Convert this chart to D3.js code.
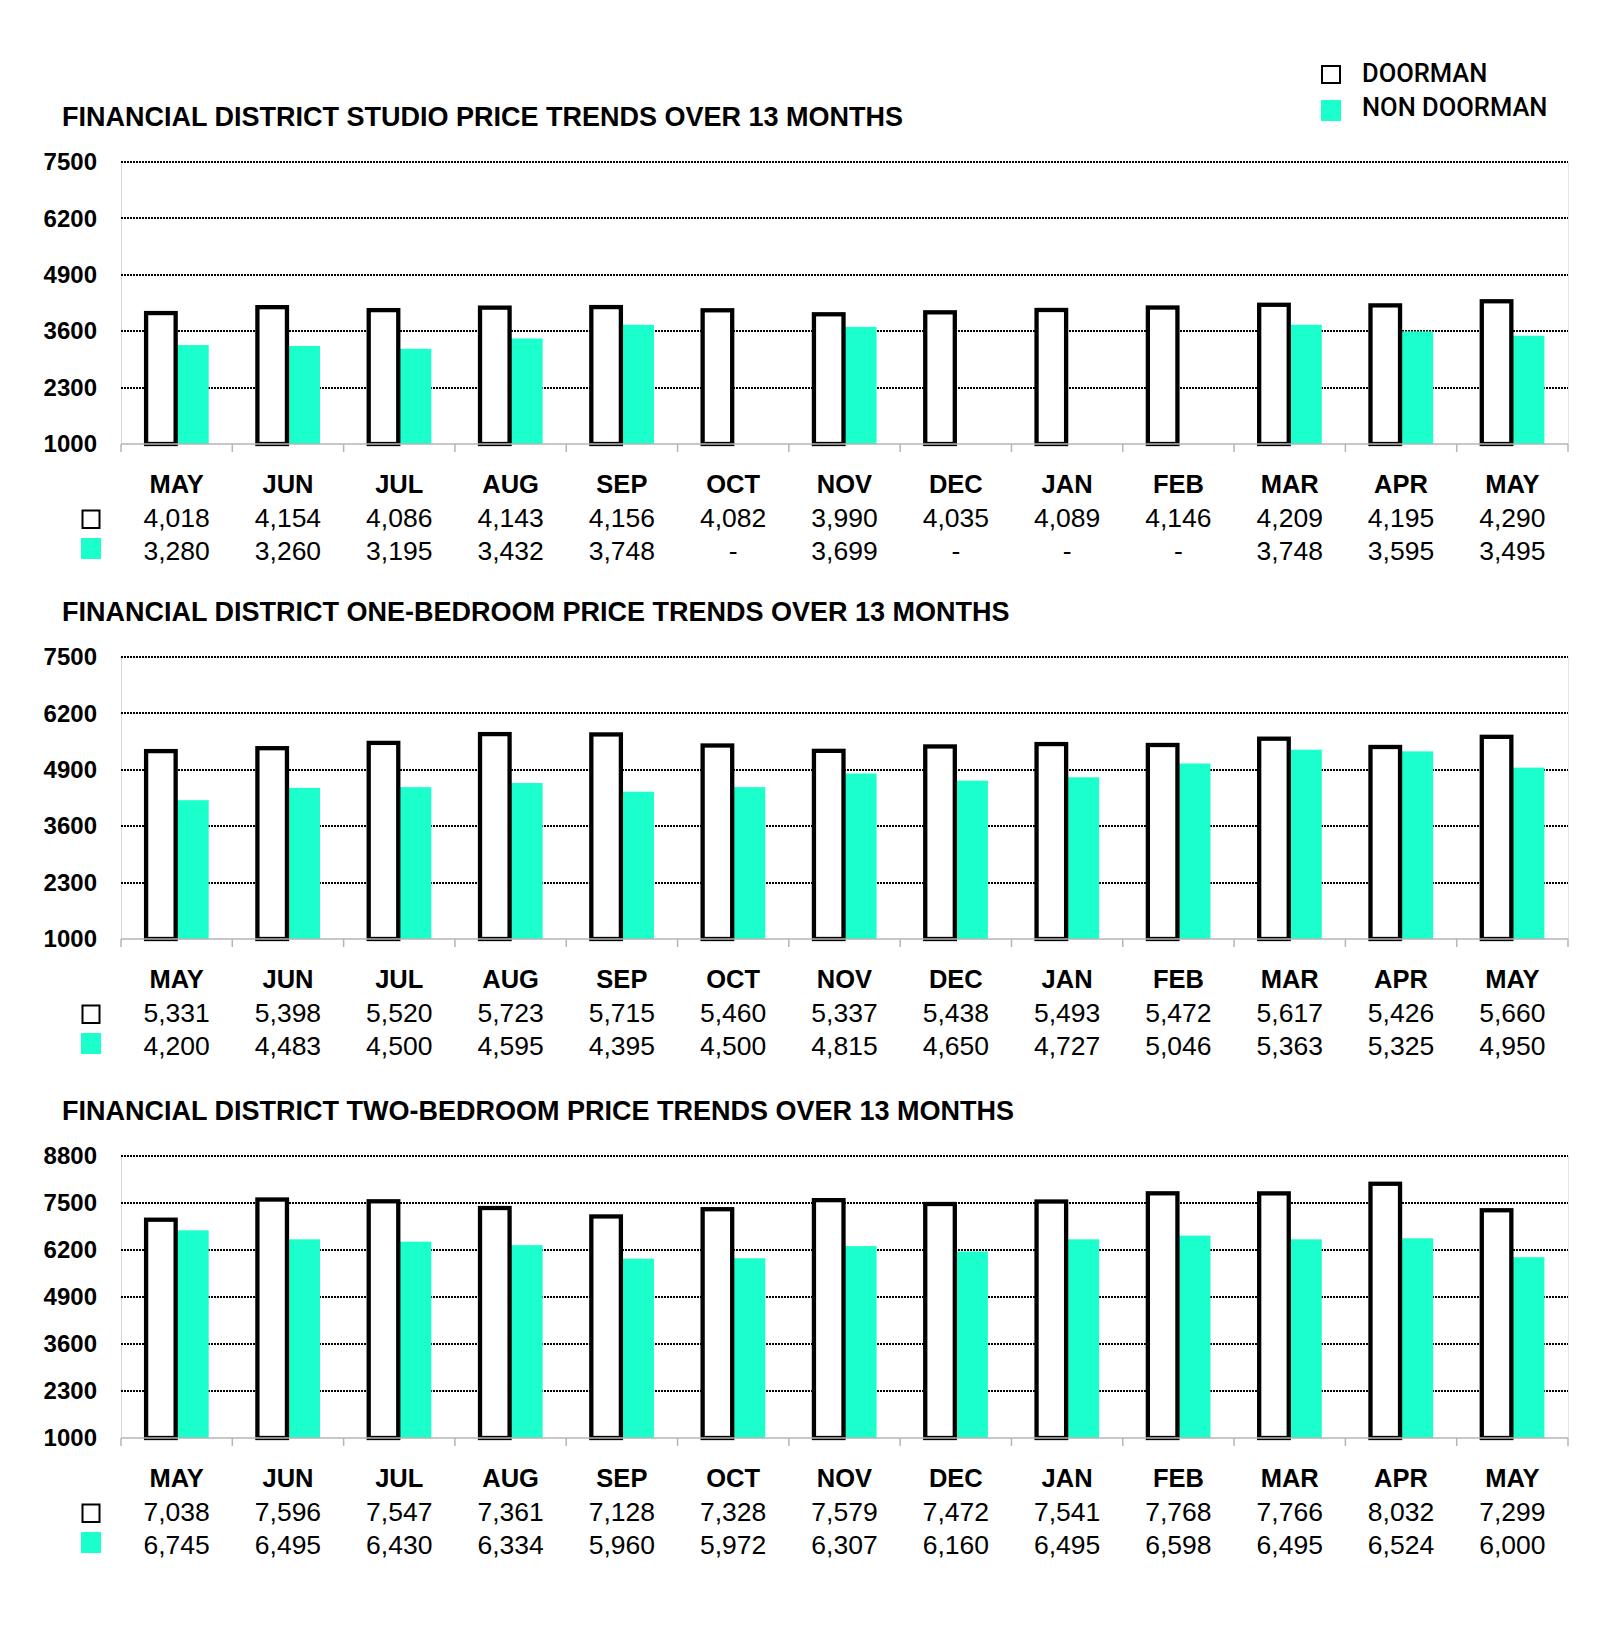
<!DOCTYPE html>
<html>
<head>
<meta charset="utf-8">
<script src="https://cdn.jsdelivr.net/npm/d3@7"></script>
<style>
  body { margin: 0; background: #fff; }
  text { font-family: "Liberation Sans", Arial, sans-serif; }
</style>
</head>
<body>
<div class="chart"></div>
<script>
var months = ['MAY', 'JUN', 'JUL', 'AUG', 'SEP', 'OCT', 'NOV', 'DEC', 'JAN', 'FEB', 'MAR', 'APR', 'MAY'];
var seriesNames = ['DOORMAN', 'NON DOORMAN'];

var studioDoorman = [4018, 4154, 4086, 4143, 4156, 4082, 3990, 4035, 4089, 4146, 4209, 4195, 4290];
var studioNonDoorman = [3280, 3260, 3195, 3432, 3748, null, 3699, null, null, null, 3748, 3595, 3495];

var oneBedDoorman = [5331, 5398, 5520, 5723, 5715, 5460, 5337, 5438, 5493, 5472, 5617, 5426, 5660];
var oneBedNonDoorman = [4200, 4483, 4500, 4595, 4395, 4500, 4815, 4650, 4727, 5046, 5363, 5325, 4950];

var twoBedDoorman = [7038, 7596, 7547, 7361, 7128, 7328, 7579, 7472, 7541, 7768, 7766, 8032, 7299];
var twoBedNonDoorman = [6745, 6495, 6430, 6334, 5960, 5972, 6307, 6160, 6495, 6598, 6495, 6524, 6000];

var studioTicks = [1000, 2300, 3600, 4900, 6200, 7500];
var oneBedTicks = [1000, 2300, 3600, 4900, 6200, 7500];
var twoBedTicks = [1000, 2300, 3600, 4900, 6200, 7500, 8800];

var titles = [
  'FINANCIAL DISTRICT STUDIO PRICE TRENDS OVER 13 MONTHS',
  'FINANCIAL DISTRICT ONE-BEDROOM PRICE TRENDS OVER 13 MONTHS',
  'FINANCIAL DISTRICT TWO-BEDROOM PRICE TRENDS OVER 13 MONTHS'
];

var teal = '#1affcc';
var width = 1600, height = 1641;
var plotLeft = 121, plotRight = 1568, plotHeight = 282;
var fmt = d3.format(',');

var svg = d3.select('.chart').append('svg')
    .attr('width', width)
    .attr('height', height);

// top legend
var legend = svg.append('g').attr('transform', 'translate(1321, 65)');
legend.append('rect')
    .attr('x', 1).attr('y', 1).attr('width', 18).attr('height', 17)
    .attr('fill', '#fff').attr('stroke', '#000').attr('stroke-width', 2);
legend.append('rect')
    .attr('x', 0).attr('y', 35).attr('width', 20).attr('height', 21)
    .attr('fill', teal);
legend.selectAll('.legend-label')
  .data(seriesNames)
  .enter().append('text')
    .attr('class', 'legend-label')
    .attr('x', 41)
    .attr('y', (d, i) => 17 + i * 34)
    .style('font-family', 'Roboto, sans-serif')
    .attr('font-weight', 500)
    .attr('font-size', 25.5)
    .text(d => d);

drawChart(titles[0], studioDoorman, studioNonDoorman, studioTicks, 162);
drawChart(titles[1], oneBedDoorman, oneBedNonDoorman, oneBedTicks, 657);
drawChart(titles[2], twoBedDoorman, twoBedNonDoorman, twoBedTicks, 1156);

function drawChart(title, doorman, nonDoorman, ticks, top) {
  var bottom = top + plotHeight;
  var g = svg.append('g');

  var x = d3.scaleBand()
    .domain(d3.range(months.length))
    .range([plotLeft, plotRight])
    .paddingInner(0.415)
    .paddingOuter(0.2075);

  var x1 = d3.scaleBand()
    .domain([0, 1])
    .range([0, x.bandwidth()]);

  var y = d3.scaleLinear()
    .domain([ticks[0], ticks[ticks.length - 1]])
    .range([bottom, top]);

  g.append('text')
      .attr('x', 62)
      .attr('y', top - 36.5)
      .attr('font-weight', 'bold')
      .attr('font-size', 27)
      .text(title);

  // frame
  g.append('line')
      .attr('x1', plotLeft + 0.5).attr('x2', plotLeft + 0.5)
      .attr('y1', top).attr('y2', bottom)
      .attr('stroke', '#d8d8d8').attr('stroke-width', 1);
  g.append('line')
      .attr('x1', plotRight + 0.5).attr('x2', plotRight + 0.5)
      .attr('y1', top).attr('y2', bottom)
      .attr('stroke', '#e4e4e4').attr('stroke-width', 1);

  // gridlines
  g.selectAll('.grid')
    .data(ticks.slice(1))
    .enter().append('line')
      .attr('class', 'grid')
      .attr('x1', plotLeft).attr('x2', plotRight)
      .attr('y1', d => Math.round(y(d))).attr('y2', d => Math.round(y(d)))
      .attr('stroke', '#000')
      .attr('stroke-width', 2)
      .attr('shape-rendering', 'crispEdges')
      .attr('stroke-dasharray', '2,1');

  var yAxis = d3.axisLeft(y)
    .tickValues(ticks)
    .tickFormat(d3.format('d'))
    .tickSize(0)
    .tickPadding(0);
  var gY = g.append('g')
      .attr('transform', `translate(97, 0)`)
      .call(yAxis);
  gY.select('.domain').remove();
  gY.selectAll('text')
      .attr('fill', '#000')
      .attr('font-weight', 'bold')
      .attr('font-size', 24)
      .attr('font-family', '"Liberation Sans", Arial, sans-serif');

  var groups = g.selectAll('.month')
    .data(months.map((m, i) => ({i: i, m: m, d: doorman[i], n: nonDoorman[i]})))
    .enter().append('g')
      .attr('class', 'month')
      .attr('transform', d => `translate(${x(d.i)}, 0)`);

  groups.filter(d => d.n != null).append('rect')
      .attr('x', x1(1) + 0.5)
      .attr('y', d => y(d.n))
      .attr('width', x1.bandwidth() - 1)
      .attr('height', d => bottom - y(d.n))
      .attr('fill', teal);

  groups.append('rect')
      .attr('x', x1(0) + 2)
      .attr('y', d => y(d.d))
      .attr('width', x1.bandwidth() - 3)
      .attr('height', d => bottom - y(d.d))
      .attr('fill', '#fff')
      .attr('stroke', '#000')
      .attr('stroke-width', 4.3);

  // category axis
  var step = x.step();
  g.append('line')
      .attr('x1', plotLeft).attr('x2', plotRight)
      .attr('y1', bottom).attr('y2', bottom)
      .attr('stroke', '#b5b5b5').attr('stroke-width', 1.5);
  g.selectAll('.xtick')
    .data(d3.range(months.length + 1))
    .enter().append('line')
      .attr('class', 'xtick')
      .attr('x1', d => plotLeft + d * step).attr('x2', d => plotLeft + d * step)
      .attr('y1', bottom).attr('y2', bottom + 8)
      .attr('stroke', '#b5b5b5').attr('stroke-width', 1.5);

  // data table under the axis
  var cx = i => x(i) + x.bandwidth() / 2;
  g.selectAll('.mlabel')
    .data(months)
    .enter().append('text')
      .attr('class', 'mlabel')
      .attr('x', (d, i) => cx(i))
      .attr('y', bottom + 49)
      .attr('text-anchor', 'middle')
      .attr('font-weight', 'bold')
      .attr('font-size', 25.5)
      .text(d => d);

  [doorman, nonDoorman].forEach(function(vals, r) {
    g.selectAll('.val' + r)
      .data(vals)
      .enter().append('text')
        .attr('class', 'val' + r)
        .attr('x', (d, i) => cx(i))
        .attr('y', bottom + 83 + r * 33)
        .attr('text-anchor', 'middle')
        .attr('font-size', 26.5)
        .text(d => d == null ? '-' : fmt(d));
  });

  g.append('rect')
      .attr('x', 82.5).attr('y', bottom + 66.5)
      .attr('width', 17).attr('height', 17.5)
      .attr('fill', '#fff').attr('stroke', '#000').attr('stroke-width', 2);
  g.append('rect')
      .attr('x', 81).attr('y', bottom + 94)
      .attr('width', 20).attr('height', 21)
      .attr('fill', teal);
}
</script>
</body>
</html>
